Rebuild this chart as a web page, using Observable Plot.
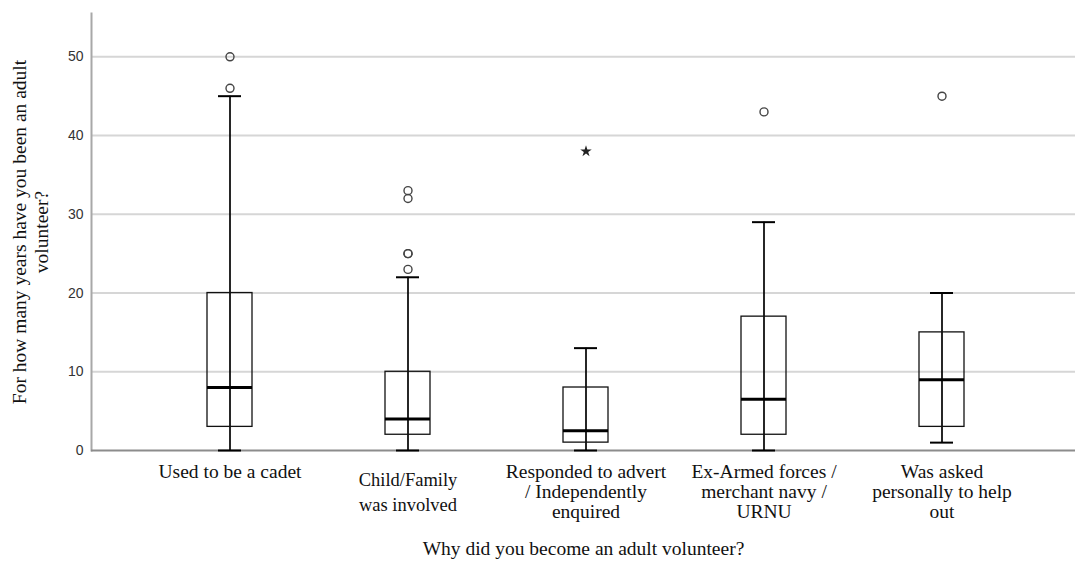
<!DOCTYPE html>
<html>
<head>
<meta charset="utf-8">
<script src="https://cdn.jsdelivr.net/npm/d3@7"></script>
<script src="https://cdn.jsdelivr.net/npm/@observablehq/plot@0.6"></script>
<style>
  html, body { margin: 0; padding: 0; background: #fff; }
  #chart svg { display: block; }
</style>
</head>
<body>
<div id="chart"></div>
<script>
// ---- data ----
const categories = [
  "Used to be a cadet",
  "Child/Family was involved",
  "Responded to advert / Independently enquired",
  "Ex-Armed forces / merchant navy / URNU",
  "Was asked personally to help out"
];
const tickLabels = [
  "Used to be a cadet",
  "Child/Family\nwas involved",
  "Responded to advert\n/ Independently\nenquired",
  "Ex-Armed forces /\nmerchant navy /\nURNU",
  "Was asked\npersonally to help\nout"
];
const whiskerLow  = [0, 0, 0, 0, 1];
const quartile1   = [3, 2, 1, 2, 3];
const medians     = [8, 4, 2.5, 6.5, 9];
const quartile3   = [20, 10, 8, 17, 15];
const whiskerHigh = [45, 22, 13, 29, 20];

const outlierGroup = [0, 0, 1, 1, 1, 1, 1, 3, 4];
const outlierValue = [50, 46, 33, 32, 25, 25, 23, 43, 45];

const extremeGroup = [2];
const extremeValue = [38];

const yTicks = [0, 10, 20, 30, 40, 50];
const yTitle = "For how many years have you been an adult\nvolunteer?";
const xTitle = "Why did you become an adult volunteer?";

// ---- tables built from the arrays ----
const boxes = categories.map((c, i) => ({
  cat: c, label: tickLabels[i], lo: whiskerLow[i], q1: quartile1[i],
  med: medians[i], q3: quartile3[i], hi: whiskerHigh[i]
}));
const outliers = outlierGroup.map((g, i) => ({cat: categories[g], v: outlierValue[i]}));
const extremes = extremeGroup.map((g, i) => ({cat: categories[g], v: extremeValue[i]}));

const serif = "'Liberation Serif', 'Times New Roman', serif";
const sans = "'Liberation Sans', Arial, sans-serif";

const chart = Plot.plot({
  width: 1075,
  height: 563,
  marginLeft: 91,
  marginRight: 0,
  marginTop: 13,
  marginBottom: 113,
  style: {background: "#fff"},
  x: {type: "band", domain: categories, paddingInner: 0.75, paddingOuter: 0.634, align: 0.51, axis: null},
  y: {domain: [0, 55.5], axis: null},
  marks: [
    Plot.gridY(yTicks.filter(d => d > 0), {stroke: "#d6d6d6", strokeOpacity: 1, strokeWidth: 2}),
    Plot.frame({anchor: "left", stroke: "#a8a8a8", strokeWidth: 2}),
    Plot.ruleY([0], {stroke: "#8c8c8c", strokeWidth: 2}),
    Plot.axisY({ticks: yTicks, tickSize: 0, tickPadding: 8, fontSize: 14, fontFamily: sans, fill: "#333", label: null}),
    // whiskers
    Plot.ruleX(boxes, {x: "cat", y1: "lo", y2: "hi", stroke: "#000", strokeWidth: 1.7}),
    Plot.tickY(boxes, {x: "cat", y: "lo", stroke: "#000", strokeWidth: 2, insetLeft: 11, insetRight: 11}),
    Plot.tickY(boxes, {x: "cat", y: "hi", stroke: "#000", strokeWidth: 2, insetLeft: 11, insetRight: 11}),
    // boxes
    Plot.barY(boxes, {x: "cat", y1: "q1", y2: "q3", fill: "none", stroke: "#111", strokeWidth: 1.3}),
    Plot.tickY(boxes, {x: "cat", y: "med", stroke: "#000", strokeWidth: 3}),
    // outliers and extremes
    Plot.dot(outliers, {x: "cat", y: "v", r: 4, stroke: "#444", strokeWidth: 1.4, fill: "none"}),
    Plot.dot(extremes, {x: "cat", y: "v", symbol: "star", r: 3.6, fill: "#222", stroke: "none"}),
    // category labels
    Plot.text(boxes.filter((d, i) => i !== 1), {x: "cat", text: "label", frameAnchor: "bottom", lineAnchor: "top", dy: 13, lineHeight: 1.04, fontSize: 19.5, fontFamily: serif, fill: "#111"}),
    Plot.text(boxes.filter((d, i) => i === 1), {x: "cat", text: "label", frameAnchor: "bottom", lineAnchor: "top", dy: 18, lineHeight: 1.35, fontSize: 18.5, fontFamily: serif, fill: "#111"}),
    // axis titles
    Plot.text([xTitle], {frameAnchor: "bottom", lineAnchor: "middle", dy: 98, fontSize: 19.5, fontFamily: serif, fill: "#111"}),
    Plot.text([yTitle], {frameAnchor: "left", rotate: -90, textAnchor: "middle", lineAnchor: "middle", dx: -62, lineHeight: 1.13, fontSize: 19.5, fontFamily: serif, fill: "#111"})
  ]
});
document.getElementById("chart").append(chart);
</script>
</body>
</html>
